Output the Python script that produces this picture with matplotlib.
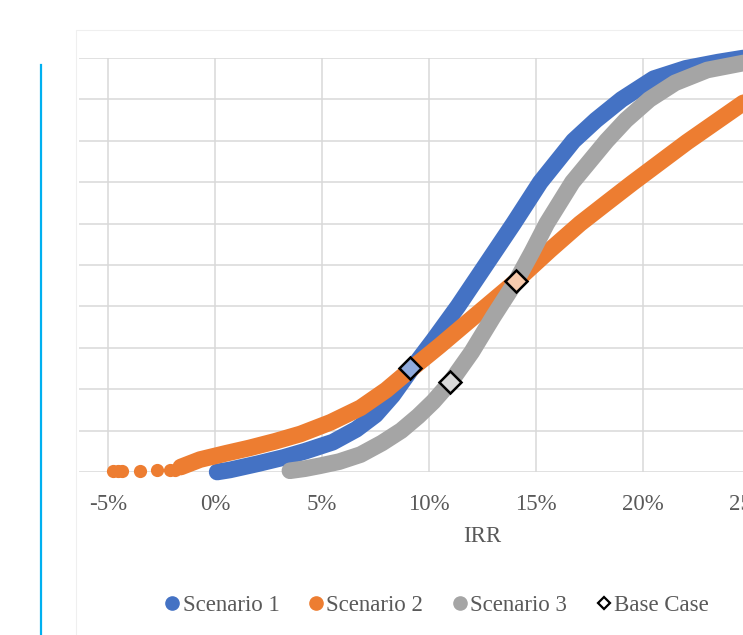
import matplotlib
matplotlib.use("Agg")
import matplotlib.pyplot as plt
from matplotlib.lines import Line2D
from matplotlib.patches import Rectangle

plt.rcParams['font.family'] = ['Liberation Serif', 'DejaVu Serif']
plt.rcParams['axes.unicode_minus'] = False

# ---- data ----
tick_vals = [-0.05, 0.0, 0.05, 0.10, 0.15, 0.20, 0.25, 0.30]
tick_labels = ['-5%', '0%', '5%', '10%', '15%', '20%', '25%', '30%']

s1_irr = [0.001, 0.007, 0.020, 0.032, 0.042, 0.055, 0.066, 0.075, 0.083, 0.091,
          0.102, 0.1135, 0.1265, 0.1395, 0.152, 0.1675, 0.178, 0.190, 0.205,
          0.220, 0.235, 0.247]
s1_cdf = [0.000, 0.005, 0.020, 0.035, 0.050, 0.072, 0.103, 0.138, 0.185, 0.243,
          0.318, 0.400, 0.500, 0.600, 0.700, 0.800, 0.850, 0.900, 0.950,
          0.975, 0.990, 1.000]

s2_tail_irr = [-0.0477, -0.0455, -0.0435, -0.035, -0.0271, -0.021, -0.0187]
s2_tail_cdf = [0.002, 0.002, 0.003, 0.003, 0.004, 0.005, 0.006]
s2_irr = [-0.016, -0.007, 0.005, 0.016, 0.028, 0.040, 0.054, 0.068, 0.080, 0.091,
          0.105, 0.118, 0.129, 0.1407, 0.1565, 0.1706, 0.183, 0.195, 0.2206,
          0.2467, 0.270]
s2_cdf = [0.012, 0.030, 0.045, 0.058, 0.074, 0.092, 0.120, 0.155, 0.198, 0.246,
          0.305, 0.362, 0.410, 0.461, 0.536, 0.600, 0.650, 0.698, 0.797,
          0.891, 0.945]

s3_irr = [0.035, 0.042, 0.049, 0.058, 0.068, 0.078, 0.087, 0.095, 0.102, 0.110,
          0.120, 0.130, 0.1407, 0.148, 0.155, 0.167, 0.183, 0.192, 0.203,
          0.215, 0.230, 0.247, 0.270]
s3_cdf = [0.003, 0.008, 0.015, 0.025, 0.042, 0.070, 0.100, 0.135, 0.170, 0.217,
          0.290, 0.375, 0.461, 0.530, 0.600, 0.700, 0.800, 0.850, 0.900,
          0.940, 0.971, 0.988, 0.998]

base_irr = [0.0911, 0.1407, 0.1098]
base_cdf = [0.251, 0.461, 0.217]

series_names = ['Scenario 1', 'Scenario 2', 'Scenario 3', 'Base Case']
colors = ['#4472C4', '#ED7D31', '#A5A5A5']
base_fill = ['#8FAADC', '#F8CBAD', '#D9D9D9']

# ---- figure ----
W, H = 743, 635
fig = plt.figure(figsize=(W / 100, H / 100), dpi=100)
fig.patch.set_facecolor('white')

# chart frame and left accent line
fig.add_artist(Rectangle((76 / W, -0.05), 1.0, (H - 30) / H + 0.05,
                         transform=fig.transFigure, fill=False,
                         edgecolor='#EFEFEF', lw=0.8))
fig.add_artist(Line2D([40.5 / W, 40.5 / W], [0, (H - 65) / H],
                      transform=fig.transFigure, color='#00B0F0', lw=1.6))

left_px, right_px, top_px, bot_px = 79, 885, 58, 472
ax = fig.add_axes([left_px / W, (H - bot_px) / H,
                   (right_px - left_px) / W, (bot_px - top_px) / H])
ppu = 21.4  # px per percent
x0 = (-5 + (left_px - 108) / ppu) / 100
x1 = (-5 + (right_px - 108) / ppu) / 100
ax.set_xlim(x0, x1)
ax.set_ylim(0, 1)

ax.set_xticks(tick_vals)
ax.set_xticklabels(tick_labels)
ax.set_yticks([i / 10 for i in range(11)])
ax.tick_params(axis='y', left=False, labelleft=False)
ax.tick_params(axis='x', bottom=False, labelsize=16.5, labelcolor='#595959', pad=12)
for s in ax.spines.values():
    s.set_visible(False)
ax.grid(True, color='#D9D9D9', lw=1.1)
ax.set_axisbelow(True)
ax.set_xlabel('IRR', fontsize=16.5, color='#595959', labelpad=8)

lw = 12
ax.plot(s1_irr, s1_cdf, color=colors[0], lw=lw, solid_capstyle='round',
        solid_joinstyle='round', clip_on=False, zorder=2)
ax.plot(s2_tail_irr, s2_tail_cdf, 'o', color=colors[1], ms=9.5, mew=0,
        clip_on=False, zorder=3)
ax.plot(s2_irr, s2_cdf, color=colors[1], lw=lw, solid_capstyle='round',
        solid_joinstyle='round', clip_on=False, zorder=3)
ax.plot(s3_irr, s3_cdf, color=colors[2], lw=lw, solid_capstyle='round',
        solid_joinstyle='round', clip_on=False, zorder=4)
for xi, yi, fc in zip(base_irr, base_cdf, base_fill):
    ax.plot([xi], [yi], 'D', ms=11.5, mfc=fc, mec='black', mew=1.8,
            zorder=6, clip_on=False)

handles = [
    Line2D([], [], ls='none', marker='o', ms=9.5, mfc=colors[0], mec=colors[0]),
    Line2D([], [], ls='none', marker='o', ms=9.5, mfc=colors[1], mec=colors[1]),
    Line2D([], [], ls='none', marker='o', ms=9.5, mfc=colors[2], mec=colors[2]),
    Line2D([], [], ls='none', marker='D', ms=6.5, mfc='white', mec='black', mew=1.6),
]
leg = fig.legend(handles, series_names, loc='center', ncol=4,
                 bbox_to_anchor=(437 / W, (H - 605) / H), frameon=False,
                 fontsize=16.5, handlelength=0.6, handletextpad=0.15,
                 columnspacing=1.3, labelcolor='#595959')

fig.savefig('out.png', dpi=100)
